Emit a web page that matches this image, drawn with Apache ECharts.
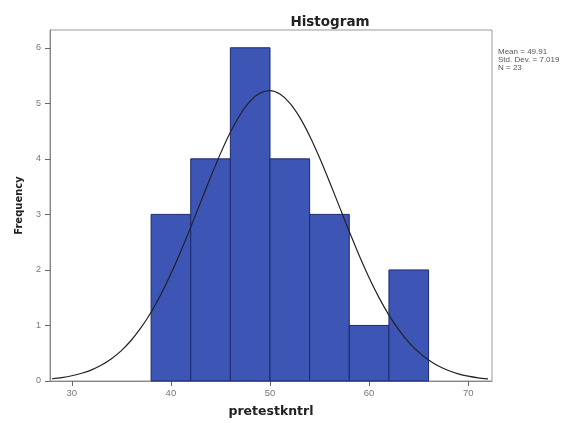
<!DOCTYPE html>
<html><head><meta charset="utf-8">
<script src="https://cdn.jsdelivr.net/npm/echarts@6/dist/echarts.min.js"></script>
<style>html,body{margin:0;padding:0;background:#fff}#c{width:585px;height:423px}</style>
</head><body><div id="c"></div>
<script>
var binStarts = [38, 42, 46, 50, 54, 58, 62];
var binWidth = 4;
var counts = [3, 4, 6, 4, 3, 1, 2];
var curveX = [28, 29, 30, 31, 32, 33, 34, 35, 36, 37, 38, 39, 40, 41, 42, 43, 44, 45, 46, 47, 48, 49, 50,
              51, 52, 53, 54, 55, 56, 57, 58, 59, 60, 61, 62, 63, 64, 65, 66, 67, 68, 69, 70, 71, 72];
var curveY = [0.04, 0.062, 0.094, 0.139, 0.201, 0.287, 0.401, 0.548, 0.734, 0.964, 1.239, 1.563, 1.93, 2.336, 2.771, 3.221, 3.668, 4.094, 4.478, 4.799, 5.039, 5.185, 5.229,
              5.166, 5.002, 4.746, 4.412, 4.02, 3.589, 3.14, 2.691, 2.261, 1.861, 1.501, 1.186, 0.919, 0.697, 0.519, 0.378, 0.27, 0.189, 0.129, 0.087, 0.057, 0.037];
var xTicks = [30, 40, 50, 60, 70];
var yTicks = [0, 1, 2, 3, 4, 5, 6];
var statsLines = ['Mean = 49.91', 'Std. Dev. = 7.019', 'N = 23'];

var barData = binStarts.map(function (s, i) { return [s, s + binWidth, counts[i]]; });
var curveData = curveX.map(function (x, i) { return [x, curveY[i]]; });

var chart = echarts.init(document.getElementById('c'));
chart.setOption({
  animation: false,
  backgroundColor: '#fff',
  title: {
    text: 'Histogram', left: 325, top: 10, textAlign: 'center',
    textStyle: { fontFamily: 'DejaVu Sans', fontWeight: 'bold', fontSize: 13.5, color: '#222' }
  },
  grid: { left: 50, top: 30, right: 93, bottom: 40, show: true, borderColor: '#999', borderWidth: 1, backgroundColor: 'transparent' },
  xAxis: {
    type: 'value', min: 27.8, max: 72.4,
    name: 'pretestkntrl', nameLocation: 'middle', nameGap: 24,
    nameTextStyle: { fontFamily: 'DejaVu Sans', fontWeight: 'bold', fontSize: 12.5, color: '#222' },
    axisLine: { show: true, lineStyle: { color: '#888', width: 1 } },
    axisTick: { show: true, customValues: xTicks, length: 5, lineStyle: { color: '#666' } },
    axisLabel: { customValues: xTicks, fontFamily: 'Liberation Sans', fontSize: 9.5, color: '#777', margin: 7 },
    splitLine: { show: false }
  },
  yAxis: {
    type: 'value', min: 0, max: 6.32,
    name: 'Frequency', nameLocation: 'middle', nameGap: 26,
    nameTextStyle: { fontFamily: 'DejaVu Sans', fontWeight: 'bold', fontSize: 10, color: '#222' },
    axisLine: { show: true, lineStyle: { color: '#888', width: 1 } },
    axisTick: { show: true, customValues: yTicks, length: 5, lineStyle: { color: '#666' } },
    axisLabel: { customValues: yTicks, fontFamily: 'Liberation Sans', fontSize: 9, color: '#777', margin: 9 },
    splitLine: { show: false }
  },
  graphic: [{
    type: 'text', left: 498, top: 48,
    style: { text: statsLines.join('\n'), font: '8px "Liberation Sans"', lineHeight: 8, fill: '#555' }
  }],
  series: [{
    type: 'custom',
    data: barData,
    renderItem: function (params, api) {
      var p0 = api.coord([api.value(0), api.value(2)]);
      var p1 = api.coord([api.value(1), 0]);
      return {
        type: 'rect',
        shape: { x: p0[0], y: p0[1], width: p1[0] - p0[0], height: p1[1] - p0[1] },
        style: { fill: '#3d55b5', stroke: '#1b2b6e', lineWidth: 1 }
      };
    },
    encode: { x: [0, 1], y: 2 },
    z: 1
  }, {
    type: 'line',
    data: curveData,
    smooth: 0.3,
    showSymbol: false,
    lineStyle: { color: '#222', width: 1.2 },
    z: 3
  }]
});
</script>
</body></html>
